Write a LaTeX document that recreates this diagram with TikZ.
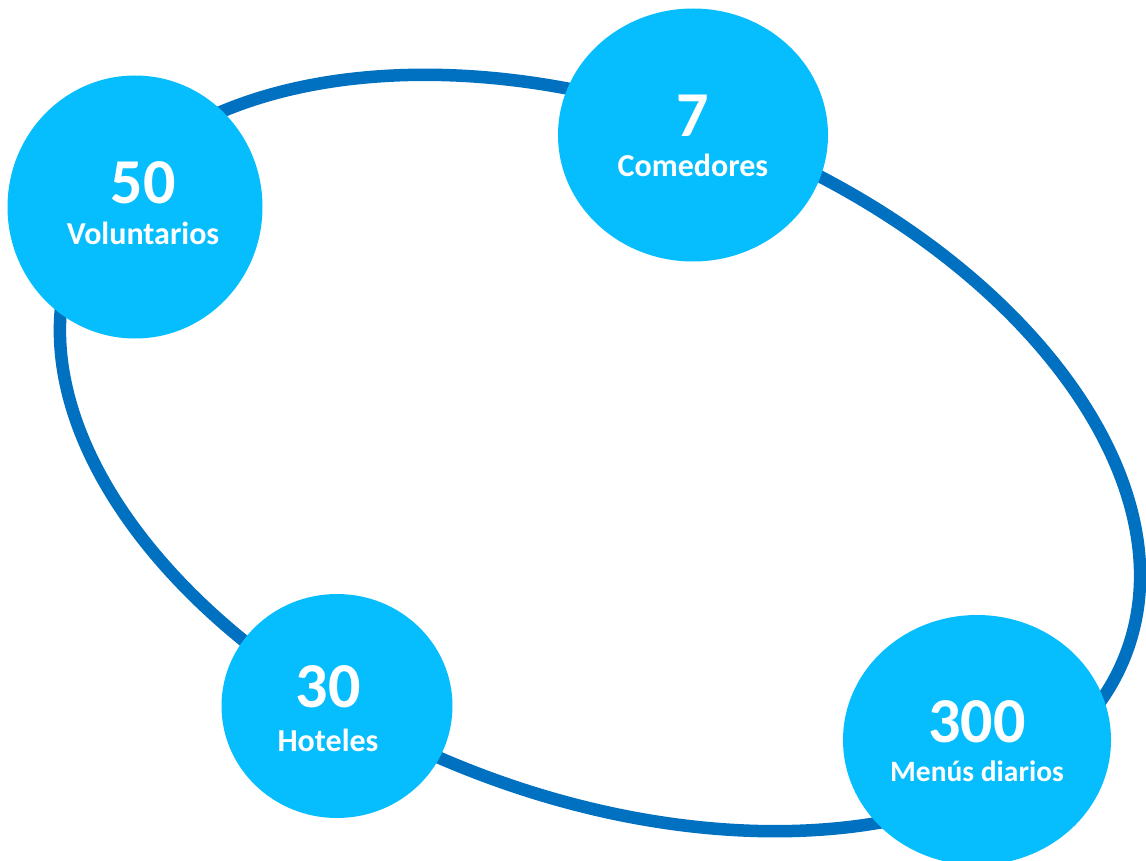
\documentclass[tikz,border=0pt]{standalone}
\usepackage{fontspec}
\setmainfont{Carlito}
\usetikzlibrary{shapes.geometric}
\definecolor{ringblue}{RGB}{0,112,192}
\definecolor{bubblue}{RGB}{6,190,254}
\tikzset{
  bubble/.style={ellipse, fill=bubblue, draw=none, inner sep=0pt},
  bignum/.style={text=white, font=\bfseries\fontsize{64}{64}\selectfont, inner sep=0pt},
  lbl/.style={text=white, font=\bfseries\fontsize{32}{32}\selectfont, inner sep=0pt, anchor=base}
}
\begin{document}
\begin{tikzpicture}[x=1pt,y=-1pt]
\useasboundingbox (0,0) rectangle (1146,861);
\draw[ringblue, line width=12.5pt, rotate around={-20.9:(600,453)}] (600,453) ellipse [x radius=563, y radius=343];
% bubbles
\node[bubble, minimum width=255pt, minimum height=263pt] (b50) at (135,207) {};
\node[bubble, minimum width=270pt, minimum height=253pt] (b7) at (693,135) {};
\node[bubble, minimum width=268pt, minimum height=250pt] (b300) at (977,740) {};
\node[bubble, minimum width=231pt, minimum height=224pt] (b30) at (337,706) {};
% texts
\node[bignum] (n50) at (143,183) {50};
\node[lbl] (l50) at (143,244) {Voluntarios};
\node[bignum] (n7) at (693,116) {7};
\node[lbl] (l7) at (693,177) {Comedores};
\node[bignum] (n300) at (977,722) {300};
\node[lbl, font=\bfseries\fontsize{29.5}{29.5}\selectfont] (l300) at (977,781) {Menús diarios};
\node[bignum] (n30) at (328,687) {30};
\node[lbl] (l30) at (328,751) {Hoteles};
\end{tikzpicture}
\end{document}
